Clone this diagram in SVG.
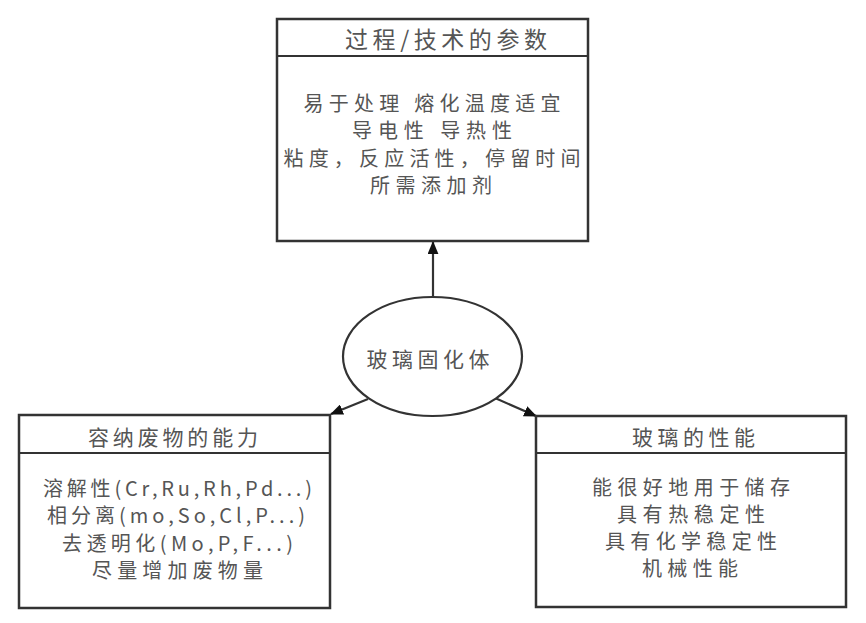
<svg xmlns="http://www.w3.org/2000/svg" width="866" height="623" viewBox="0 0 866 623">
<defs>
<style>
.box{fill:#fff;stroke:#333;stroke-width:2.5}
.div{stroke:#333;stroke-width:2}
.t{font-family:"Noto Sans CJK SC",sans-serif;font-size:20px;fill:#555;text-anchor:middle}
.conn{stroke:#333;stroke-width:2.2;fill:none}
</style>
<marker id="ah" viewBox="0 0 12 10" refX="11" refY="5" markerWidth="13" markerHeight="11" orient="auto" markerUnits="userSpaceOnUse">
<path d="M0,0 L12,5 L0,10 z" fill="#111"/>
</marker>
</defs>
<rect width="866" height="623" fill="#fff"/>
<g id="connectors">
<line class="conn" x1="433" y1="297" x2="433" y2="242" marker-end="url(#ah)"/>
<line class="conn" x1="368" y1="399" x2="331" y2="414" marker-end="url(#ah)"/>
<line class="conn" x1="495" y1="398" x2="536" y2="416" marker-end="url(#ah)"/>
</g>
<g id="process">
<rect class="box" x="277" y="19" width="311" height="222"/>
<line class="div" x1="277" y1="56" x2="588" y2="56"/>
<text class="t" x="446" y="48" textLength="202" style="font-size:23px">过程/技术的参数</text>
<text class="t" x="432" y="111" textLength="257">易于处理 熔化温度适宜</text>
<text class="t" x="432" y="138" textLength="160">导电性 导热性</text>
<text class="t" x="432" y="166" textLength="297">粘度，反应活性，停留时间</text>
<text class="t" x="431" y="193" textLength="122">所需添加剂</text>
</g>
<g id="vitrified">
<ellipse cx="432.5" cy="356.5" rx="89.5" ry="59.5" fill="#fff" stroke="#333" stroke-width="2.2"/>
<text class="t" x="428" y="367" textLength="123" style="font-size:21px">玻璃固化体</text>
</g>
<g id="waste">
<rect class="box" x="19" y="415" width="311" height="193"/>
<line class="div" x1="19" y1="453" x2="330" y2="453"/>
<text class="t" x="173" y="445" textLength="170" style="font-size:21px">容纳废物的能力</text>
<text class="t" x="177.5" y="496" textLength="269">溶解性(Cr,Ru,Rh,Pd...)</text>
<text class="t" x="176" y="523" textLength="258">相分离(mo,So,Cl,P...)</text>
<text class="t" x="177.5" y="551" textLength="231">去透明化(Mo,P,F...)</text>
<text class="t" x="177.5" y="578" textLength="171">尽量增加废物量</text>
</g>
<g id="glass">
<rect class="box" x="536" y="416" width="310" height="191"/>
<line class="div" x1="536" y1="453" x2="846" y2="453"/>
<text class="t" x="693.5" y="445" textLength="123" style="font-size:21px">玻璃的性能</text>
<text class="t" x="691" y="495" textLength="198">能很好地用于储存</text>
<text class="t" x="691" y="522" textLength="148">具有热稳定性</text>
<text class="t" x="691" y="549" textLength="172">具有化学稳定性</text>
<text class="t" x="690" y="576" textLength="96">机械性能</text>
</g>
</svg>
